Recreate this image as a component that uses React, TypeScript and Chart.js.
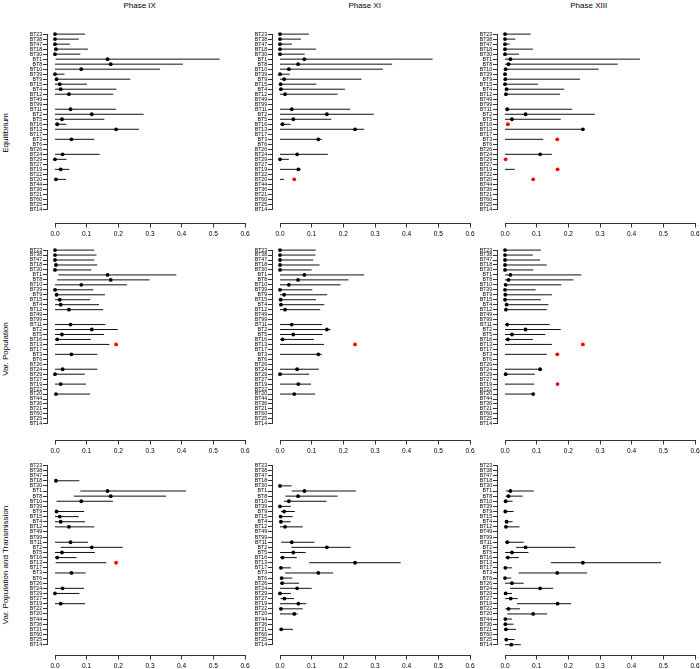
import React, { useEffect, useRef } from 'react';
import { Chart, registerables } from 'chart.js';

Chart.register(...registerables);

const _ = null;

// ---------- categories, ticks, labels ----------
const CATEGORIES = [
  'BT23', 'BT38', 'BT47', 'BT18', 'BT30', 'BT1',
  'BT8', 'BT10', 'BT39', 'BT9', 'BT15', 'BT4',
  'BT12', 'BT49', 'BT99', 'BT11', 'BT2', 'BT5',
  'BT16', 'BT13', 'BT17', 'BT3', 'BT6', 'BT26',
  'BT24', 'BT29', 'BT27', 'BT19', 'BT22', 'BT20',
  'BT44', 'BT36', 'BT21', 'BT60', 'BT25', 'BT14',
];
const X_TICKS = [0, 0.1, 0.2, 0.3, 0.4, 0.5, 0.6];
const PHASES = ['Phase IX', 'Phase XI', 'Phase XIII'];
const SCENARIOS = ['Equilibrium', 'Var. Population', 'Var. Population and Transmission'];

// ---------- Equilibrium ----------
const EQ_IX_EST = [
  0, 0, 0, 0.003, 0, 0.166,
  0.176, 0.083, 0, 0.005, 0.015, 0.018,
  0.044, _, _, 0.049, 0.116, 0.022,
  0.007, 0.193, _, 0.052, _, _,
  0.024, 0, _, 0.018, _, 0.003,
  _, _, _, _, _, _,
];
const EQ_IX_LO = [
  0, 0, 0, 0, 0, 0.002,
  0, 0, 0, 0, 0, 0,
  0, _, _, 0, 0, 0,
  0, 0, _, 0, _, _,
  0, 0, _, 0, _, 0,
  _, _, _, _, _, _,
];
const EQ_IX_HI = [
  0.095, 0.075, 0.047, 0.104, 0.08, 0.52,
  0.404, 0.332, 0.03, 0.238, 0.101, 0.194,
  0.184, _, _, 0.192, 0.28, 0.156,
  0.036, 0.265, _, 0.124, _, _,
  0.141, 0.036, _, 0.045, _, 0.035,
  _, _, _, _, _, _,
];

const EQ_XI_EST = [
  0, 0, 0, 0, 0, 0.077,
  0.057, 0.028, 0, 0.013, 0.002, 0.003,
  0.016, _, _, 0.037, 0.148, 0.042,
  0.008, 0.237, _, 0.121, _, _,
  0.054, 0, _, 0.058, _, 0.045,
  _, _, _, _, _, _,
];
const EQ_XI_LO = [
  0, 0, 0, 0, 0, 0,
  0, 0, 0, 0, 0, 0,
  0, _, _, 0, 0, 0,
  0, 0, _, 0, _, _,
  0, 0, _, 0, _, 0,
  _, _, _, _, _, _,
];
const EQ_XI_HI = [
  0.091, 0.066, 0.038, 0.114, 0.078, 0.482,
  0.354, 0.325, 0.031, 0.257, 0.115, 0.205,
  0.182, _, _, 0.221, 0.296, 0.162,
  0.034, 0.266, _, 0.132, _, _,
  0.151, 0.028, _, 0.065, _, 0.013,
  _, _, _, _, _, _,
];

const EQ_XIII_EST = [
  0, 0, 0, 0, 0, 0.017,
  0.011, 0.002, 0, 0.001, 0, 0.005,
  0.003, _, _, 0.007, 0.065, 0.022,
  0.009, 0.246, _, 0.165, _, _,
  0.111, 0.002, _, 0.166, _, 0.089,
  _, _, _, _, _, _,
];
const EQ_XIII_LO = [
  0, 0, 0, 0, 0, 0,
  0, 0, 0, 0, 0, 0,
  0, _, _, 0, 0, 0,
  _, 0, _, 0, _, _,
  0, _, _, 0, _, 0,
  _, _, _, _, _, _,
];
const EQ_XIII_HI = [
  0.081, 0.033, 0.015, 0.088, 0.044, 0.426,
  0.356, 0.296, 0.003, 0.237, 0.104, 0.187,
  0.174, _, _, 0.212, 0.284, 0.176,
  _, 0.25, _, 0.121, _, _,
  0.148, _, _, 0.031, _, 0.002,
  _, _, _, _, _, _,
];

// ---------- Var. Population ----------
const VP_IX_EST = [
  0, 0, 0, 0.003, 0, 0.166,
  0.176, 0.083, 0, 0.005, 0.015, 0.018,
  0.044, _, _, 0.049, 0.116, 0.022,
  0.007, 0.193, _, 0.052, _, _,
  0.024, 0, _, 0.018, _, 0.003,
  _, _, _, _, _, _,
];
const VP_IX_LO = [
  0, 0, 0, 0, 0, 0.011,
  0.007, 0, 0, 0, 0, 0,
  0, _, _, 0, 0, 0,
  0, 0, _, 0, _, _,
  0, 0, _, 0, _, 0,
  _, _, _, _, _, _,
];
const VP_IX_HI = [
  0.124, 0.131, 0.124, 0.133, 0.115, 0.383,
  0.299, 0.228, 0.121, 0.158, 0.111, 0.139,
  0.152, _, _, 0.159, 0.198, 0.155,
  0.113, 0.172, _, 0.134, _, _,
  0.134, 0.094, _, 0.098, _, 0.111,
  _, _, _, _, _, _,
];

const VP_XI_EST = [
  0, 0, 0, 0, 0, 0.077,
  0.057, 0.028, 0, 0.013, 0.002, 0.003,
  0.016, _, _, 0.037, 0.148, 0.042,
  0.008, 0.237, _, 0.121, _, _,
  0.054, 0, _, 0.058, _, 0.045,
  _, _, _, _, _, _,
];
const VP_XI_LO = [
  0, 0, 0, 0, 0, 0,
  0, 0, 0, 0, 0, 0,
  0, _, _, 0, 0, 0,
  0, 0, _, 0, _, _,
  0, 0, _, 0, _, 0,
  _, _, _, _, _, _,
];
const VP_XI_HI = [
  0.113, 0.112, 0.105, 0.125, 0.1, 0.266,
  0.216, 0.191, 0.102, 0.149, 0.114, 0.14,
  0.127, _, _, 0.133, 0.16, 0.135,
  0.107, 0.139, _, 0.132, _, _,
  0.123, 0.092, _, 0.098, _, 0.111,
  _, _, _, _, _, _,
];

const VP_XIII_EST = [
  0, 0, 0, 0, 0, 0.017,
  0.011, 0.002, 0, 0.001, 0, 0.005,
  0.003, _, _, 0.007, 0.065, 0.022,
  0.009, 0.246, _, 0.165, _, _,
  0.111, 0.002, _, 0.166, _, 0.089,
  _, _, _, _, _, _,
];
const VP_XIII_LO = [
  0, 0, 0, 0, 0, 0,
  0, 0, 0, 0, 0, 0,
  0, _, _, 0, 0, 0,
  0, 0, _, 0, _, _,
  0, 0, _, 0, _, 0,
  _, _, _, _, _, _,
];
const VP_XIII_HI = [
  0.113, 0.088, 0.111, 0.132, 0.09, 0.241,
  0.216, 0.178, 0.097, 0.148, 0.113, 0.137,
  0.132, _, _, 0.141, 0.176, 0.127,
  0.088, 0.148, _, 0.132, _, _,
  0.112, 0.094, _, 0.092, _, 0.093,
  _, _, _, _, _, _,
];

// ---------- Var. Population and Transmission ----------
const VPT_IX_EST = [
  _, _, _, 0.003, _, 0.166,
  0.176, 0.083, _, 0.005, 0.015, 0.018,
  0.044, _, _, 0.049, 0.116, 0.022,
  0.007, 0.193, _, 0.052, _, _,
  0.024, 0, _, 0.018, _, _,
  _, _, _, _, _, _,
];
const VPT_IX_LO = [
  _, _, _, 0, _, 0.08,
  0.059, 0.005, _, 0, 0, 0,
  0, _, _, 0, 0.018, 0,
  0, 0.002, _, 0, _, _,
  0, 0, _, 0, _, _,
  _, _, _, _, _, _,
];
const VPT_IX_HI = [
  _, _, _, 0.077, _, 0.414,
  0.351, 0.183, _, 0.092, 0.075, 0.095,
  0.124, _, _, 0.104, 0.214, 0.126,
  0.068, 0.162, _, 0.097, _, _,
  0.092, 0.077, _, 0.095, _, _,
  _, _, _, _, _, _,
];

const VPT_XI_EST = [
  _, _, _, _, 0, 0.077,
  0.057, 0.028, 0, 0.013, 0.002, 0.003,
  0.016, _, _, 0.037, 0.148, 0.042,
  0.008, 0.237, 0.003, 0.121, 0.005, 0.007,
  0.054, 0, 0.014, 0.058, 0.003, 0.045,
  _, _, 0.004, _, _, _,
];
const VPT_XI_LO = [
  _, _, _, _, 0, 0.037,
  0.017, 0.012, 0, 0.003, 0, 0,
  0, _, _, 0.004, 0.036, 0,
  0, 0.092, 0, 0.016, 0, 0,
  0, 0, 0.002, 0, 0, 0,
  _, _, 0, _, _, _,
];
const VPT_XI_HI = [
  _, _, _, _, 0.037, 0.24,
  0.182, 0.147, 0.034, 0.047, 0.04, 0.034,
  0.072, _, _, 0.109, 0.223, 0.081,
  0.053, 0.381, 0.034, 0.168, 0.039, 0.06,
  0.1, 0.034, 0.044, 0.083, 0.072, 0.056,
  _, _, 0.041, _, _, _,
];

const VPT_XIII_EST = [
  _, _, _, _, _, 0.017,
  0.011, 0.002, _, 0.001, _, 0.005,
  0.003, _, _, 0.007, 0.065, 0.022,
  0.009, 0.246, 0.001, 0.165, 0, 0.022,
  0.111, 0.002, 0.018, 0.166, 0.011, 0.089,
  0.001, 0.001, 0.003, _, 0.004, 0.02,
];
const VPT_XIII_LO = [
  _, _, _, _, _, 0.003,
  0.002, 0, _, 0, _, 0,
  0, _, _, 0, 0.035, 0,
  0.001, 0.145, 0, 0.043, 0, 0,
  0.016, 0, 0.001, 0.038, 0.001, 0.007,
  0, 0, 0, _, 0, 0,
];
const VPT_XIII_HI = [
  _, _, _, _, _, 0.091,
  0.056, 0.024, _, 0.027, _, 0.024,
  0.046, _, _, 0.059, 0.222, 0.074,
  0.044, 0.493, 0.022, 0.259, 0.02, 0.059,
  0.152, 0.022, 0.04, 0.209, 0.047, 0.133,
  0.022, 0.027, 0.035, _, 0.03, 0.05,
];

const PANEL_DATA = [
  [
    { est: EQ_IX_EST, lo: EQ_IX_LO, hi: EQ_IX_HI },
    { est: EQ_XI_EST, lo: EQ_XI_LO, hi: EQ_XI_HI },
    { est: EQ_XIII_EST, lo: EQ_XIII_LO, hi: EQ_XIII_HI },
  ],
  [
    { est: VP_IX_EST, lo: VP_IX_LO, hi: VP_IX_HI },
    { est: VP_XI_EST, lo: VP_XI_LO, hi: VP_XI_HI },
    { est: VP_XIII_EST, lo: VP_XIII_LO, hi: VP_XIII_HI },
  ],
  [
    { est: VPT_IX_EST, lo: VPT_IX_LO, hi: VPT_IX_HI },
    { est: VPT_XI_EST, lo: VPT_XI_LO, hi: VPT_XI_HI },
    { est: VPT_XIII_EST, lo: VPT_XIII_LO, hi: VPT_XIII_HI },
  ],
];

// ---------- layout & style ----------
const FONT = '"Liberation Sans", Arial, Helvetica, sans-serif';
const COL_LEFT = [25, 250, 475];
const ROW_TOP = [21, 237, 453];
const PANEL_W = 225;
const Y_AXIS_W = 22.4;
const RIGHT_PAD = 5;
const X_AXIS_H = 22;
const X_MIN = -0.024;
const ROW_GEOM = [
  { first: 11.3, step: 5.049, axis: 201.7 },
  { first: 11.3, step: 5.011, axis: 203 },
  { first: 10.6, step: 5.171, axis: 202 },
];
const TITLE_X = [139.7, 364.7, 588.7];
const ROW_LABEL_Y = [133, 349, 565];
const AXIS_COLOR = '#333333';
const BAR_COLOR = '#111111';
const POINT_COLOR = '#000000';
const OUTSIDE_COLOR = '#ff0000';

const alignPx = (p: number) => Math.round(p - 0.5) + 0.5;

const rAxesPlugin = {
  id: 'rAxes',
  afterDraw(chart: any) {
    const { ctx, chartArea, scales } = chart;
    const x = scales.x;
    const y = scales.y;
    ctx.save();
    ctx.strokeStyle = AXIS_COLOR;
    ctx.lineWidth = 1;
    ctx.lineCap = 'square';
    ctx.beginPath();
    const yb = alignPx(chartArea.bottom);
    ctx.moveTo(alignPx(x.getPixelForValue(X_TICKS[0])), yb);
    ctx.lineTo(alignPx(x.getPixelForValue(X_TICKS[X_TICKS.length - 1])), yb);
    const xl = alignPx(chartArea.left);
    ctx.moveTo(xl, alignPx(y.getPixelForValue(0)));
    ctx.lineTo(xl, alignPx(y.getPixelForValue(CATEGORIES.length - 1)));
    ctx.stroke();
    ctx.restore();
  },
};

function isOutside(e: number, l: number | null, h: number | null) {
  return l == null || h == null || e < l - 1e-9 || e > h + 1e-9;
}

function Panel({ row, col }: { row: number; col: number }) {
  const ref = useRef<HTMLCanvasElement>(null);
  const geom = ROW_GEOM[row];
  const height = Math.round(geom.axis + X_AXIS_H);

  useEffect(() => {
    const { est, lo, hi } = PANEL_DATA[row][col];
    const yMin = -geom.first / geom.step;
    const yMax = yMin + geom.axis / geom.step;

    const intervalPts: any[] = [];
    CATEGORIES.forEach((_c, i) => {
      if (lo[i] != null && hi[i] != null) {
        intervalPts.push({ x: lo[i], y: i }, { x: hi[i], y: i }, { x: null, y: null });
      }
    });
    const points: any[] = [];
    const colors: string[] = [];
    CATEGORIES.forEach((_c, i) => {
      const e = est[i];
      if (e != null) {
        points.push({ x: e, y: i });
        colors.push(isOutside(e, lo[i], hi[i]) ? OUTSIDE_COLOR : POINT_COLOR);
      }
    });

    const zeroPad = (s: any) => {
      s.paddingLeft = 0;
      s.paddingRight = 0;
      s.paddingTop = 0;
      s.paddingBottom = 0;
    };

    const chart = new Chart(ref.current as HTMLCanvasElement, {
      type: 'scatter',
      data: {
        datasets: [
          {
            type: 'scatter',
            data: points,
            pointRadius: 1.9,
            pointHoverRadius: 1.9,
            pointBorderWidth: 0,
            pointBackgroundColor: colors,
            pointBorderColor: colors,
            order: 0,
          } as any,
          {
            type: 'line',
            data: intervalPts,
            borderColor: BAR_COLOR,
            borderWidth: 1,
            pointRadius: 0,
            pointHoverRadius: 0,
            fill: false,
            tension: 0,
            spanGaps: false,
            order: 1,
          } as any,
        ],
      },
      options: {
        responsive: false,
        animation: false,
        devicePixelRatio: 1,
        events: [],
        layout: { padding: { left: 0, right: RIGHT_PAD, top: 0, bottom: 0 } },
        plugins: { legend: { display: false }, tooltip: { enabled: false } },
        scales: {
          x: {
            type: 'linear',
            position: 'bottom',
            min: X_MIN,
            max: X_TICKS[X_TICKS.length - 1],
            bounds: 'data',
            afterBuildTicks: (s: any) => {
              s.ticks = X_TICKS.map((v) => ({ value: v }));
            },
            afterFit: (s: any) => {
              s.height = X_AXIS_H;
              zeroPad(s);
            },
            grid: { drawOnChartArea: false, drawTicks: true, tickLength: 4.5, color: AXIS_COLOR, lineWidth: 1 },
            border: { display: false },
            ticks: {
              autoSkip: false,
              maxRotation: 0,
              minRotation: 0,
              padding: 3,
              color: '#000',
              font: { family: FONT, size: 6.6 },
              callback: (v: any) => Number(v).toFixed(1),
            },
          },
          y: {
            type: 'linear',
            position: 'left',
            reverse: true,
            min: yMin,
            max: yMax,
            bounds: 'data',
            afterBuildTicks: (s: any) => {
              s.ticks = CATEGORIES.map((_c, i) => ({ value: i }));
            },
            afterFit: (s: any) => {
              s.width = Y_AXIS_W;
              zeroPad(s);
            },
            grid: { drawOnChartArea: false, drawTicks: true, tickLength: 4.5, color: AXIS_COLOR, lineWidth: 1 },
            border: { display: false },
            ticks: {
              autoSkip: false,
              padding: 0.8,
              color: '#000',
              font: { family: FONT, size: 5.2 },
              callback: (v: any) => CATEGORIES[Math.round(Number(v))] ?? '',
            },
          },
        },
      } as any,
      plugins: [rAxesPlugin],
    });
    return () => chart.destroy();
  }, [row, col]);

  return (
    <canvas
      ref={ref}
      width={PANEL_W}
      height={height}
      style={{
        position: 'absolute',
        left: COL_LEFT[col],
        top: ROW_TOP[row],
        width: PANEL_W,
        height,
      }}
    />
  );
}

export default function App() {
  return (
    <div
      style={{
        position: 'absolute',
        left: 0,
        top: 0,
        width: 700,
        height: 669,
        background: '#ffffff',
        fontFamily: FONT,
        color: '#000',
        overflow: 'hidden',
      }}
    >
      {PHASES.map((p, c) => (
        <div
          key={p}
          style={{
            position: 'absolute',
            left: TITLE_X[c] - 60,
            top: 1.5,
            width: 120,
            fontSize: 8,
            lineHeight: '8px',
            textAlign: 'center',
            whiteSpace: 'nowrap',
          }}
        >
          {p}
        </div>
      ))}
      {SCENARIOS.map((s, r) => (
        <div
          key={s}
          style={{
            position: 'absolute',
            left: 5.6 - 150,
            top: ROW_LABEL_Y[r] - 5,
            width: 300,
            height: 10,
            fontSize: 8,
            lineHeight: '10px',
            textAlign: 'center',
            whiteSpace: 'nowrap',
            transform: 'rotate(-90deg)',
          }}
        >
          {s}
        </div>
      ))}
      {[0, 1, 2].map((r) =>
        [0, 1, 2].map((c) => <Panel key={`${r}-${c}`} row={r} col={c} />)
      )}
    </div>
  );
}
